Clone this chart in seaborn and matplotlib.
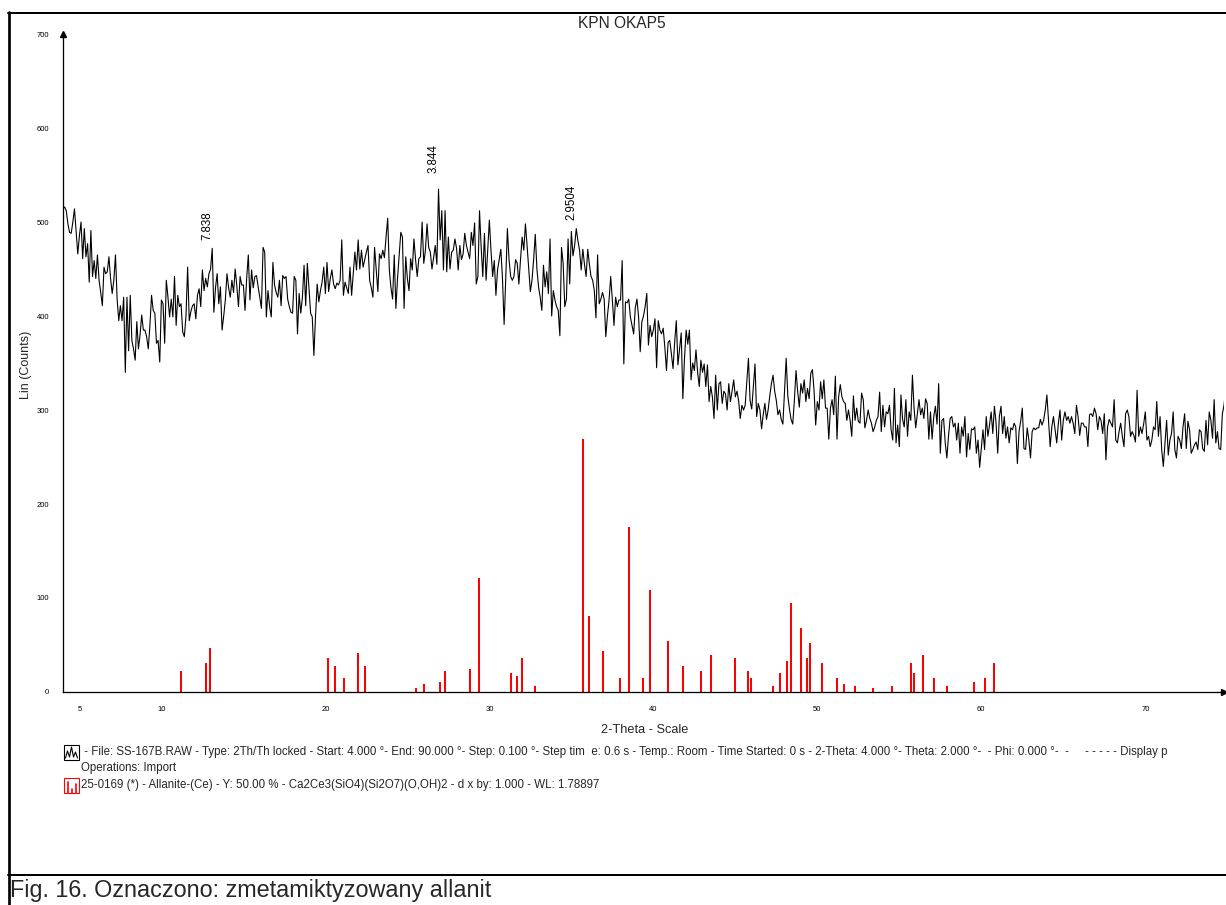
import numpy as np
import pandas as pd
import matplotlib
matplotlib.use("Agg")
import matplotlib.pyplot as plt
import seaborn as sns
from matplotlib.lines import Line2D
from matplotlib.patches import Rectangle
from matplotlib.ticker import FixedLocator, MultipleLocator, FuncFormatter

# ---------------------------------------------------------------------------
# Measured scan: SS-167B.RAW, 2Th/Th locked, start 4.000 deg, step 0.100 deg
# ---------------------------------------------------------------------------
scan_start = 4.0
scan_step = 0.1
counts = [
    # 4.0 - 27.9
    514, 516, 512, 498, 489, 488, 500, 514, 490, 466,
    485, 500, 461, 493, 463, 477, 436, 491, 442, 459,
    440, 465, 438, 425, 411, 452, 445, 447, 463, 440,
    424, 438, 465, 418, 395, 411, 395, 420, 340, 420,
    363, 422, 374, 365, 353, 394, 365, 380, 401, 385,
    385, 378, 365, 390, 422, 406, 403, 371, 374, 351,
    417, 413, 371, 438, 420, 399, 418, 399, 442, 390,
    422, 410, 413, 383, 378, 400, 452, 395, 405, 411,
    413, 397, 422, 429, 410, 449, 427, 440, 431, 445,
    450, 472, 404, 430, 445, 413, 431, 385, 400, 417,
    445, 430, 420, 438, 425, 450, 432, 410, 442, 433,
    433, 406, 440, 465, 417, 449, 430, 442, 443, 431,
    420, 408, 473, 468, 399, 427, 410, 399, 457, 433,
    425, 420, 438, 411, 443, 440, 442, 418, 410, 404,
    403, 442, 438, 381, 424, 403, 420, 454, 411, 456,
    430, 403, 399, 358, 400, 434, 415, 427, 436, 452,
    424, 457, 426, 440, 449, 434, 429, 435, 433, 438,
    481, 422, 436, 430, 424, 452, 422, 445, 468, 449,
    481, 450, 470, 452, 460, 468, 475, 438, 430, 420,
    473, 449, 426, 466, 461, 470, 462, 484, 504, 449,
    430, 418, 465, 408, 440, 465, 489, 484, 408, 463,
    440, 427, 461, 449, 482, 460, 442, 461, 463, 500,
    456, 470, 498, 473, 468, 450, 462, 475, 455, 535,
    481, 512, 449, 512, 447, 484, 450, 468, 470, 482,
    # 28.0 - 48.9
    472, 449, 475, 460, 466, 488, 475, 468, 461, 489,
    475, 499, 434, 442, 512, 473, 442, 488, 438, 470,
    502, 470, 442, 459, 422, 449, 460, 471, 440, 391,
    440, 493, 460, 442, 438, 442, 460, 456, 434, 460,
    484, 470, 498, 475, 450, 426, 438, 460, 487, 450,
    431, 420, 406, 454, 431, 447, 424, 482, 400, 427,
    417, 410, 406, 379, 473, 456, 410, 418, 482, 434,
    490, 464, 475, 493, 480, 470, 449, 471, 455, 442,
    471, 455, 442, 438, 427, 398, 465, 413, 418, 425,
    418, 378, 400, 417, 442, 417, 390, 420, 410, 417,
    417, 459, 349, 415, 414, 418, 399, 390, 381, 409,
    418, 399, 362, 394, 400, 410, 424, 369, 390, 378,
    385, 397, 345, 395, 385, 381, 387, 367, 342, 372,
    374, 360, 344, 372, 395, 348, 365, 382, 312, 355,
    385, 370, 385, 332, 350, 342, 364, 340, 325, 353,
    340, 349, 325, 348, 309, 325, 314, 291, 337, 300,
    328, 330, 307, 320, 317, 300, 328, 309, 320, 332,
    314, 320, 310, 291, 305, 300, 305, 330, 355, 310,
    301, 325, 349, 293, 307, 300, 280, 295, 307, 290,
    300, 315, 328, 337, 320, 310, 295, 300, 290, 285,
    320, 355, 315, 301, 290, 285, 310, 342, 320, 303,
    # 49.0 - 74.9
    328, 318, 332, 309, 323, 312, 339, 343, 321, 284,
    309, 300, 330, 312, 332, 302, 302, 269, 302, 311, 295,
    336, 269, 314, 327, 314, 309, 307, 289, 300, 289,
    272, 315, 289, 302, 288, 286, 318, 311, 281, 289, 300,
    291, 286, 277, 282, 289, 293, 319, 277, 305, 282,
    298, 296, 305, 279, 268, 323, 265, 284, 261, 316, 290,
    282, 311, 272, 298, 289, 337, 302, 281, 296, 311,
    295, 302, 291, 312, 307, 269, 298, 269, 293, 304, 285,
    328, 254, 289, 291, 265, 249, 272, 291, 293, 282,
    286, 268, 286, 254, 282, 272, 293, 250, 275, 258, 280,
    279, 282, 254, 268, 239, 259, 279, 258, 293, 272,
    284, 298, 275, 304, 286, 254, 293, 304, 275, 293, 270,
    282, 265, 281, 279, 286, 282, 243, 277, 288, 302,
    259, 258, 281, 268, 249, 277, 281, 279, 281, 281, 290,
    284, 289, 300, 316, 289, 261, 282, 293, 279, 265,
    286, 300, 268, 289, 298, 289, 293, 286, 293, 286, 275,
    305, 293, 273, 286, 286, 282, 282, 261, 295, 296,
    293, 302, 296, 279, 293, 289, 275, 296, 247, 282, 290,
    286, 282, 311, 268, 265, 277, 286, 272, 261, 296,
    300, 293, 272, 277, 273, 266, 321, 272, 282, 275, 285,
    298, 268, 272, 261, 268, 282, 279, 309, 272, 293,
    258, 240, 265, 289, 252, 268, 275, 298, 258, 249, 272,
    268, 259, 282, 296, 259, 288, 279, 254, 258, 263,
    266, 258, 279, 277, 259, 256, 289, 263, 298, 289, 270,
    311, 265, 277, 259, 258, 296, 305, 322,
]

# Reference pattern 25-0169 Allanite-(Ce), scaled to the scan (Y: 50 %)
stick_2theta = [
    11.18, 12.70, 12.97, 20.16, 20.57, 21.14, 22.00, 22.44, 25.50, 26.00,
    27.00, 27.30, 28.80, 29.37, 31.30, 31.70, 31.97, 32.80, 35.70, 36.10,
    36.90, 37.97, 38.50, 39.35, 39.80, 40.90, 41.80, 42.90, 43.50, 45.00,
    45.80, 45.98, 47.30, 47.70, 48.15, 48.40, 48.98, 49.40, 49.57, 50.30,
    51.20, 51.60, 52.30, 53.40, 54.55, 55.70, 55.90, 56.45, 57.10, 57.90,
    59.55, 60.20, 60.80,
]
stick_counts = [
    22, 31, 47, 36, 28, 15, 41, 28, 4, 9,
    11, 22, 25, 121, 20, 17, 36, 6, 269, 81,
    44, 15, 176, 15, 108, 54, 28, 22, 39, 36,
    22, 15, 6, 20, 33, 95, 68, 36, 52, 31,
    15, 9, 6, 4, 6, 31, 20, 39, 15, 6,
    11, 15, 31,
]

# Labelled d-spacings (Angstrom) and the wavelength used for the 2-theta scale
peak_d = [7.838, 3.844, 2.9504]
peak_text = ["7.838", "3.844", "2.9504"]
wavelength = 1.78897

title = "KPN OKAP5"
x_title = "2-Theta - Scale"
y_title = "Lin (Counts)"
legend_lines = [
    " - File: SS-167B.RAW - Type: 2Th/Th locked - Start: 4.000 \u00b0- End: 90.000 \u00b0- "
    "Step: 0.100 \u00b0- Step tim  e: 0.6 s - Temp.: Room - Time Started: 0 s - "
    "2-Theta: 4.000 \u00b0- Theta: 2.000 \u00b0-  - Phi: 0.000 \u00b0-  -     - - - - - Display p",
    "Operations: Import",
    "25-0169 (*) - Allanite-(Ce) - Y: 50.00 % - Ca2Ce3(SiO4)(Si2O7)(O,OH)2 - "
    "d x by: 1.000 - WL: 1.78897",
]
caption = "Fig. 16. Oznaczono: zmetamiktyzowany allanit"

# ---------------------------------------------------------------------------
W, H = 1226, 905
sns.set_style("white")
plt.rcParams["font.family"] = ["Liberation Sans", "DejaVu Sans"]


def fx(px):
    return px / W


def fy(py):
    return 1 - py / H


PT = 0.72  # points per pixel at 100 dpi

scan = pd.DataFrame({
    "two_theta": scan_start + scan_step * np.arange(len(counts)),
    "counts": counts,
})

fig = plt.figure(figsize=(W / 100, H / 100), dpi=100)
fig.patch.set_facecolor("white")
ax = fig.add_axes([fx(63), fy(692), fx(1224) - fx(63), fy(34) - fy(692)])
ax.set_facecolor("white")

ax.vlines(stick_2theta, 0, stick_counts, color="#ff0000", lw=2 * PT, zorder=2)
sns.lineplot(data=scan, x="two_theta", y="counts", color="black", lw=1.1 * PT,
             estimator=None, sort=False, ax=ax, zorder=3)

ax.set_xlim(4.0, 74.8)
ax.set_ylim(0, 700)

for side in ("top", "right"):
    ax.spines[side].set_visible(False)
for side in ("left", "bottom"):
    ax.spines[side].set_color("black")
    ax.spines[side].set_linewidth(1.3 * PT)

# y axis: labels every 100, ticks every 10
ax.yaxis.set_major_locator(MultipleLocator(100))
ax.yaxis.set_minor_locator(MultipleLocator(10))
ax.tick_params(axis="y", which="major", direction="out", length=8 * PT,
               width=1.1 * PT, labelsize=5.5, pad=6 * PT, colors="black")
ax.tick_params(axis="y", which="minor", direction="out", length=4.5 * PT,
               width=1.1 * PT, colors="black")

# x axis: ticks every degree, longer every 5 and 10
x_major = list(range(5, 75, 5))
ax.xaxis.set_major_locator(FixedLocator(x_major))
ax.xaxis.set_minor_locator(MultipleLocator(1))
ax.xaxis.set_major_formatter(
    FuncFormatter(lambda v, _: f"{int(v)}" if (v == 5 or v % 10 == 0) else ""))
ax.tick_params(axis="x", which="major", direction="out", length=6 * PT,
               width=1.1 * PT, labelsize=5.5, pad=8 * PT, colors="black")
ax.tick_params(axis="x", which="minor", direction="out", length=3 * PT,
               width=1.1 * PT, colors="black")
for tick, loc in zip(ax.xaxis.get_major_ticks(), x_major):
    if loc % 10:
        tick.tick1line.set_markersize(4.5 * PT)

ax.set_xlabel("")
ax.set_ylabel("")

# arrow heads at the ends of both axes
ax.plot([0], [1], marker="^", ms=4, color="black", transform=ax.transAxes,
        clip_on=False, zorder=5)
ax.plot([1], [0], marker=">", ms=4, color="black", transform=ax.transAxes,
        clip_on=False, zorder=5)

# d-spacing labels above their peaks
peak_offsets = [6, 11.5, 6.5]
two_theta_arr = scan["two_theta"].to_numpy()
for d, txt, off in zip(peak_d, peak_text, peak_offsets):
    tt = np.degrees(2 * np.arcsin(wavelength / (2 * d)))
    i = int(np.argmin(np.abs(two_theta_arr - tt)))
    ax.annotate(txt, xy=(two_theta_arr[i], counts[i]), xytext=(0.6, off),
                textcoords="offset points", rotation=90, ha="right",
                va="bottom", fontsize=8.3, color="black")

# titles
fig.text(fx(622), fy(23), title, ha="center", va="center", fontsize=11.2)
fig.text(fx(645), fy(732.5), x_title, ha="center", va="baseline", fontsize=9.2)
fig.text(fx(26), fy(365), y_title, ha="center", va="center", rotation=90,
         fontsize=9)

# legend block
leg_size = 8.3
fig.text(fx(81), fy(752), legend_lines[0], ha="left", va="center",
         fontsize=leg_size)
fig.text(fx(81), fy(768), legend_lines[1], ha="left", va="center",
         fontsize=leg_size)
fig.text(fx(81), fy(785), legend_lines[2], ha="left", va="center",
         fontsize=leg_size)

# scan icon
fig.add_artist(Rectangle((fx(64), fy(760)), fx(79) - fx(64), fy(745) - fy(760),
                         transform=fig.transFigure, fill=False,
                         edgecolor="black", lw=0.8))
zig_x = [65.5, 67.5, 69.5, 71.5, 73.5, 75.5, 77.5]
zig_y = [758, 751, 757, 747, 757, 752, 758]
fig.add_artist(Line2D([fx(v) for v in zig_x], [fy(v) for v in zig_y],
                      transform=fig.transFigure, color="black", lw=0.8))
# pattern icon
fig.add_artist(Rectangle((fx(64), fy(793)), fx(79) - fx(64), fy(778) - fy(793),
                         transform=fig.transFigure, fill=False,
                         edgecolor="#ff0000", lw=0.8))
for bx, top in ((67.5, 782), (71.5, 789), (75.5, 784)):
    fig.add_artist(Line2D([fx(bx), fx(bx)], [fy(793), fy(top)],
                          transform=fig.transFigure, color="#ff0000", lw=1.2))

# frame around the plot and the caption
fig.add_artist(Line2D([fx(8), 1], [fy(13), fy(13)], transform=fig.transFigure,
                      color="black", lw=2 * PT))
fig.add_artist(Line2D([fx(8.7), fx(8.7)], [0, fy(12)], transform=fig.transFigure,
                      color="black", lw=2.7 * PT))
fig.add_artist(Line2D([fx(8), 1], [fy(875), fy(875)], transform=fig.transFigure,
                      color="black", lw=2 * PT))
fig.text(fx(10), fy(897), caption, ha="left", va="baseline", fontsize=16.8)

fig.savefig("out.png", dpi=100, facecolor="white")
